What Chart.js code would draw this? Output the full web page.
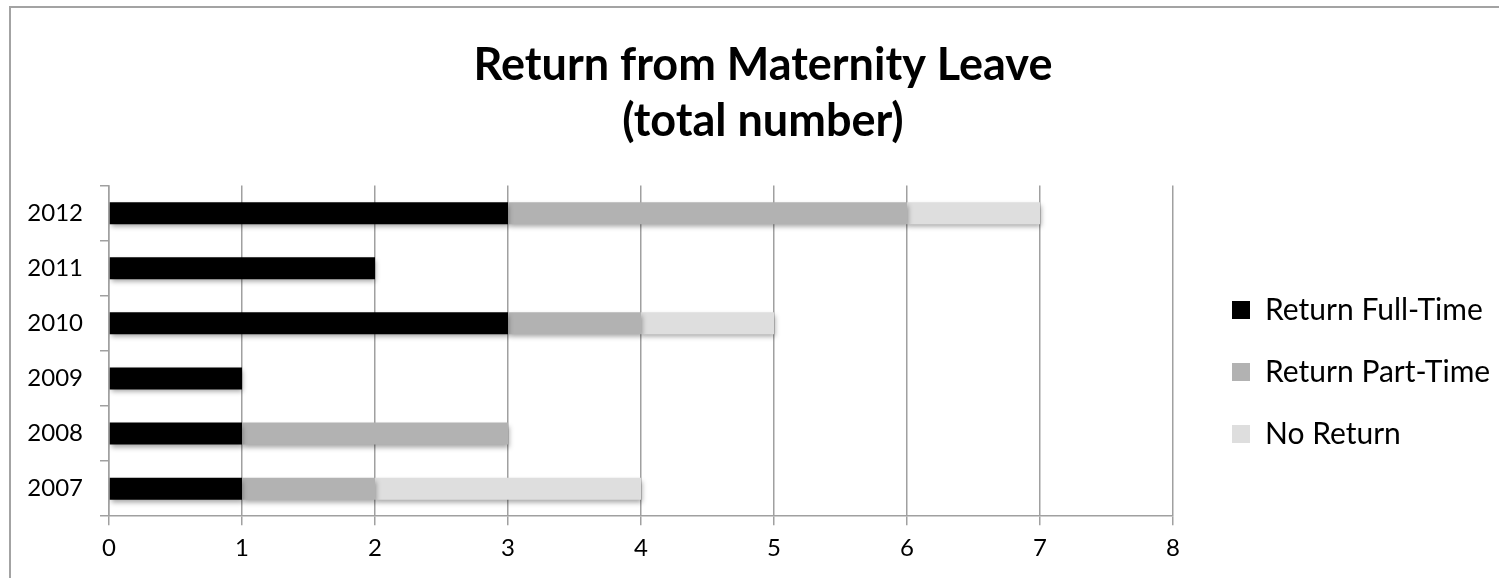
<!DOCTYPE html>
<html>
<head>
<meta charset="utf-8">
<script src="https://cdn.jsdelivr.net/npm/chart.js@4/dist/chart.umd.min.js"></script>
<style>
  html, body { margin: 0; padding: 0; background: #fff; overflow: hidden; width: 1499px; height: 578px; }
  .frame {
    position: absolute; left: 9px; top: 6px;
    width: 1504px; height: 600px;
    border: 2px solid #a3a3a3;
  }
  .frame canvas { display: block; }
</style>
</head>
<body>
<div class="frame">
  <canvas id="leaveChart" width="1500" height="590"></canvas>
</div>
<script>
/* ─────────────────────────────────────────────
   Data
───────────────────────────────────────────── */
const years = ['2012', '2011', '2010', '2009', '2008', '2007'];
const fullTime = [3, 2, 3, 1, 1, 1];
const partTime = [3, 0, 1, 0, 2, 1];
const noReturn = [1, 0, 1, 0, 0, 2];
const xTicks = [0, 1, 2, 3, 4, 5, 6, 7, 8];

const fontFamily = 'Lato, "Open Sans", sans-serif';
const colors = {
  full: '#000000',
  part: '#b2b2b2',
  none: '#dedede',
  grid: '#a0a0a0',
};

/* soft drop shadow under the bars */
const barShadow = {
  id: 'barShadow',
  beforeDatasetsDraw(chart) {
    const c = chart.ctx;
    c.save();
    c.shadowColor = 'rgba(0,0,0,0.35)';
    c.shadowBlur = 5;
    c.shadowOffsetX = 1;
    c.shadowOffsetY = 3;
  },
  afterDatasetsDraw(chart) {
    chart.ctx.restore();
  }
};

/* legend box: fixed width, pushed a little away from the plot and down */
const legendPlace = {
  id: 'legendPlace',
  beforeLayout(chart) {
    const lg = chart.legend;
    if (lg && !lg._fixed) {
      const fit = lg.fit.bind(lg);
      lg.fit = function () { fit(); this.width = 328; };
      lg._fixed = true;
    }
  },
  afterLayout(chart) {
    const lg = chart.legend;
    lg.left += 27; lg.right += 27;
    lg.top += 82; lg.bottom += 82;
  }
};

function initChart() {
  const ctx = document.getElementById('leaveChart');

  new Chart(ctx, {
    type: 'bar',
    data: {
      labels: years,
      datasets: [
        { label: 'Return Full-Time', data: fullTime, backgroundColor: colors.full },
        { label: 'Return Part-Time', data: partTime, backgroundColor: colors.part },
        { label: 'No Return', data: noReturn, backgroundColor: colors.none },
      ]
    },
    plugins: [barShadow, legendPlace],
    options: {
      indexAxis: 'y',
      responsive: false,
      animation: false,
      barPercentage: 0.4,
      categoryPercentage: 1,
      layout: { padding: { left: 14, right: 10, top: 0, bottom: 26 } },
      plugins: {
        title: {
          display: true,
          text: ['Return from Maternity Leave', '(total number)'],
          color: '#000',
          font: { family: fontFamily, size: 45, weight: 'bold', lineHeight: 1.24 },
          padding: { top: 30, bottom: 36 }
        },
        legend: {
          position: 'right',
          align: 'center',
          labels: {
            color: '#000',
            font: { family: fontFamily, size: 30 },
            boxWidth: 18,
            boxHeight: 18,
            padding: 32,
          }
        },
        tooltip: { enabled: false }
      },
      scales: {
        x: {
          stacked: true,
          min: 0,
          max: 8,
          afterBuildTicks: (axis) => { axis.ticks = xTicks.map(v => ({ value: v })); },
          grid: { color: colors.grid, lineWidth: 1.5, tickLength: 9 },
          border: { color: colors.grid, width: 1.5 },
          ticks: { color: '#000', font: { family: fontFamily, size: 24 }, padding: 9 }
        },
        y: {
          stacked: true,
          afterFit: (axis) => { axis.width = 84; },
          grid: { offset: true, drawOnChartArea: false, color: colors.grid, lineWidth: 1.5, tickLength: 9 },
          border: { color: colors.grid, width: 1.5 },
          ticks: { color: '#000', font: { family: fontFamily, size: 24 }, padding: 17 }
        }
      }
    }
  });
}

document.addEventListener('DOMContentLoaded', initChart);
</script>
</body>
</html>
